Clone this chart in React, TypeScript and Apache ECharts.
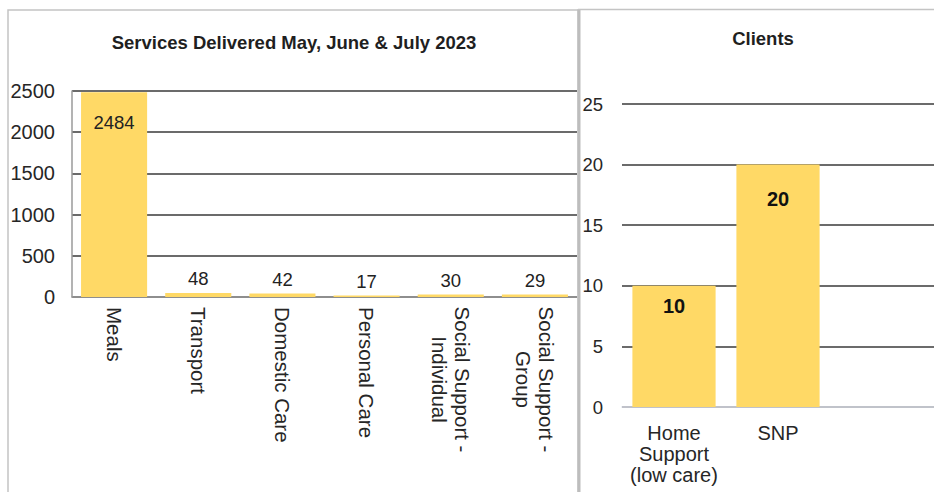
import React, { useEffect, useRef } from "react";
import * as echarts from "echarts";

const serviceCategories = ["Meals", "Transport", "Domestic Care", "Personal Care", "Social Support -\nIndividual", "Social Support -\nGroup"];
const serviceValues = [2484, 48, 42, 17, 30, 29];
const serviceTicks = [0, 500, 1000, 1500, 2000, 2500];

const clientCategories = ["Home\nSupport\n(low care)", "SNP", ""];
const clientValues: (number | null)[] = [10, 20, null];
const clientTicks = [0, 5, 10, 15, 20, 25];

const FONT = "'Liberation Sans', Arial, sans-serif";
const BAR = "#FFD966";

export default function App() {
  const ref = useRef<HTMLDivElement>(null);
  useEffect(() => {
    if (!ref.current) return;
    const chart = echarts.init(ref.current, null, { renderer: "svg" });
    const richLine = { width: 145, align: "center", fontSize: 20.5, lineHeight: 23, fontFamily: FONT, color: "#262626" };
    chart.setOption({
      animation: false,
      backgroundColor: "#ffffff",
      textStyle: { fontFamily: FONT },
      title: [
        {
          text: "Services Delivered May, June & July 2023",
          left: 289,
          top: 28,
          textAlign: "center",
          textStyle: { fontFamily: FONT, fontWeight: "bold", fontSize: 18.5, color: "#1f1f1f" },
        },
        {
          text: "Clients",
          left: 758,
          top: 24,
          textAlign: "center",
          textStyle: { fontFamily: FONT, fontWeight: "bold", fontSize: 18.5, color: "#1f1f1f" },
        },
      ],
      graphic: [
        { type: "rect", shape: { x: 8, y: 10, width: 570, height: 500 }, style: { fill: "none", stroke: "#c4c4c4", lineWidth: 1.5 }, z: 100 },
        { type: "line", shape: { x1: 579, y1: 9, x2: 579, y2: 492 }, style: { stroke: "#bdbdbd", lineWidth: 3 }, z: 100 },
        { type: "line", shape: { x1: 578, y1: 9.5, x2: 934, y2: 9.5 }, style: { stroke: "#c4c4c4", lineWidth: 1.5 }, z: 100 },
      ],
      grid: [
        { left: 72, top: 91, width: 505, height: 206, containLabel: false },
        { left: 622, top: 104, width: 324, height: 303, containLabel: false },
      ],
      xAxis: [
        {
          type: "category",
          gridIndex: 0,
          data: serviceCategories,
          axisLine: { show: true, lineStyle: { color: "#9a9a9a", width: 1.5 } },
          axisTick: { show: false },
          axisLabel: {
            interval: 0,
            rotate: -90,
            margin: 10,
            fontSize: 20.5,
            lineHeight: 23,
            color: "#262626",
            fontFamily: FONT,
            formatter: (v: string) => (v.includes("\n") ? v.split("\n").map((s) => `{c|${s}}`).join("\n") : v),
            rich: { c: richLine },
          },
        },
        {
          type: "category",
          gridIndex: 1,
          data: clientCategories,
          axisLine: { show: true, lineStyle: { color: "#dde0ea", width: 1.5 } },
          axisTick: { show: false },
          axisLabel: { interval: 0, margin: 15, fontSize: 20, lineHeight: 21, color: "#262626", fontFamily: FONT },
        },
      ],
      yAxis: [
        {
          type: "value",
          gridIndex: 0,
          min: serviceTicks[0],
          max: serviceTicks[serviceTicks.length - 1],
          interval: serviceTicks[1] - serviceTicks[0],
          axisLine: { show: true, lineStyle: { color: "#9a9a9a", width: 1.5 } },
          axisTick: { show: false },
          splitLine: { show: true, lineStyle: { color: "#3a3a3a", width: 1.6 } },
          axisLabel: { margin: 17, fontSize: 20, color: "#262626", fontFamily: FONT, formatter: (v: number) => String(v) },
        },
        {
          type: "value",
          gridIndex: 1,
          min: clientTicks[0],
          max: clientTicks[clientTicks.length - 1],
          interval: clientTicks[1] - clientTicks[0],
          axisLine: { show: false },
          axisTick: { show: false },
          splitLine: { show: true, lineStyle: { color: "#3a3a3a", width: 1.6 } },
          axisLabel: { margin: 19, fontSize: 18.5, color: "#262626", fontFamily: FONT, formatter: (v: number) => String(v) },
        },
      ],
      series: [
        {
          type: "bar",
          xAxisIndex: 0,
          yAxisIndex: 0,
          barCategoryGap: "21.5%",
          itemStyle: { color: BAR },
          label: { show: true, position: "top", distance: 5, fontSize: 18.5, color: "#222", fontFamily: FONT },
          data: serviceValues.map((v, i) =>
            i === 0 ? { value: v, label: { position: "insideTop", distance: 21 } } : v
          ),
        },
        {
          type: "bar",
          xAxisIndex: 1,
          yAxisIndex: 1,
          barCategoryGap: "20%",
          itemStyle: { color: BAR },
          label: { show: true, position: "insideTop", fontSize: 20, fontWeight: "bold", color: "#111", fontFamily: FONT },
          data: clientValues.map((v) =>
            v == null ? null : { value: v, label: { distance: v >= 20 ? 24 : 10 } }
          ),
        },
      ],
    });
    return () => chart.dispose();
  }, []);
  return <div ref={ref} style={{ position: "absolute", left: 0, top: 0, width: 934, height: 492 }} />;
}
